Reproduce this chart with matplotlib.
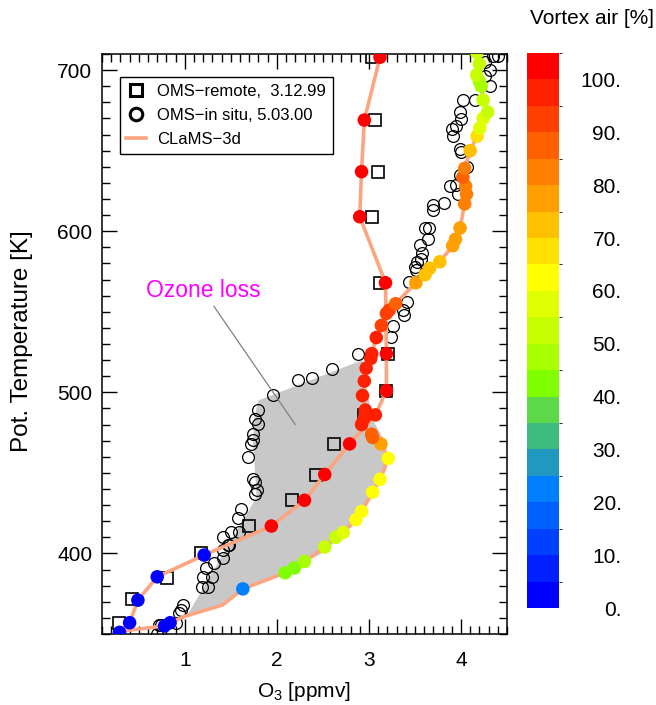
import numpy as np
import matplotlib
matplotlib.use("Agg")
import matplotlib.pyplot as plt
from matplotlib.colors import ListedColormap, BoundaryNorm
from matplotlib.cm import ScalarMappable
from matplotlib.lines import Line2D

plt.rcParams['font.family'] = ['Liberation Sans', 'DejaVu Sans']
plt.rcParams['mathtext.fontset'] = 'custom'
plt.rcParams['mathtext.rm'] = 'Liberation Sans'

# OMS-remote, 3.12.99 (squares)
remote_o3 = [3.03, 3.07, 3.10, 3.03, 3.12, 3.21, 3.19, 2.95, 2.62, 2.42, 2.16, 1.70, 1.18, 0.81, 0.43, 0.29]
remote_theta = [708, 669, 637, 609, 568, 524, 501, 486, 468, 449, 433, 417, 400, 385, 372, 357]

# OMS-in situ, 5.03.00 (open circles)
insitu_o3 = [4.35, 4.40, 4.32, 4.26, 4.26, 4.31, 4.15, 4.02, 3.99, 4.00, 3.95, 3.90, 3.91, 3.99, 4.00,
             4.06, 3.99, 3.88, 3.95, 3.97, 3.70, 3.82, 3.70, 3.61, 3.65, 3.64, 3.56, 3.58, 3.57, 3.52,
             3.50, 3.51, 3.44, 3.41, 3.37, 3.38, 3.26, 3.24, 2.88, 2.60, 2.38, 2.23, 1.96, 1.79, 1.76,
             1.79, 1.74, 1.74, 1.72, 1.69, 1.74, 1.76, 1.78, 1.76, 1.61, 1.58, 1.59, 1.50, 1.48, 1.41,
             1.47, 1.41, 1.41, 1.32, 1.23, 1.29, 1.20, 1.25, 1.19, 0.98, 0.96, 0.94, 0.74, 0.72, 0.70, 0.90]
insitu_theta = [709, 709, 700, 704.8, 696.6, 690.4, 681.5, 681.5, 673.8, 669.7, 665.6, 663.5, 659.4, 651.1, 649,
                639.7, 634.6, 627.8, 628.4, 623.2, 616, 617.6, 612.9, 602.1, 602.1, 595.3, 591.2, 586.4, 582.9, 580.8,
                577.7, 575.7, 568.4, 556, 550.9, 547.8, 540.9, 534.3, 523.6, 514.7, 509.1, 507.4, 498.6, 488.8, 483.7,
                480.6, 474.4, 470.2, 468.2, 459.9, 446.5, 444.4, 439.2, 437.2, 427.4, 421.7, 413.4, 413.4, 405, 410.3,
                405.2, 402.2, 396.9, 393.8, 390.7, 385.5, 385.5, 379.3, 379.3, 367.9, 364.8, 362.8, 355.5, 355.5, 350, 357]

# CLaMS-3d along the remote profile
clams_remote_o3 = [0.29, 0.40, 0.49, 0.70, 1.21, 1.94, 2.30, 2.52, 2.79, 3.07, 3.19, 3.19, 3.18, 2.90, 2.92, 2.95, 3.12]
clams_remote_theta = [351, 357, 371, 385.5, 399, 417, 433, 449, 468, 486, 501, 524, 568, 609, 637, 669, 708]
clams_remote_vortex = [2, 2, 2, 2, 2, 100, 100, 100, 100, 97, 100, 100, 100, 100, 100, 100, 100]

# CLaMS-3d along the in situ profile (nan = line vertex without dot)
clams_insitu_o3 = [0.34, 0.78, 0.84, 1.00, 1.41, 1.63, 2.09, 2.19, 2.30, 2.52, 2.64, 2.72, 2.86, 2.92, 3.04,
                   3.12, 3.21, 3.13, 3.04, 3.03, 2.92, 2.95, 2.96, 2.93, 2.95, 2.97, 3.02, 3.03, 3.08, 3.135,
                   3.19, 3.22, 3.29, 3.51, 3.61, 3.66, 3.77, 3.91, 3.94, 3.99, 4.04, 4.06, 4.05, 4.02, 4.04,
                   4.10, 4.175, 4.205, 4.24, 4.29, 4.24, 4.22, 4.20, 4.17, 4.20, 4.17]
clams_insitu_theta = [352, 355, 357, 361, 368, 378, 388, 391, 395, 404, 410, 413, 421, 426, 438,
                      446, 459, 468, 472, 474, 480, 484, 489, 498, 507, 515, 521, 524, 534, 541.5,
                      549, 551, 555, 568, 573, 577, 581, 591, 595, 602, 617, 623, 628, 633.5, 639,
                      650, 659, 664, 670, 674, 681.5, 690, 693, 697, 704, 711]
clams_insitu_vortex = [np.nan, 2, 2, np.nan, np.nan, 22, 42, 42, 45, 52, 52, 55, 62, 62, 62,
                       62, 62, 78, 88, 88, 98, 98, 98, 98, 98, 97, 95, 95, 95, 92,
                       92, 92, 88, 77, 72, 72, 72, 77, 77, 77, 80, 80, 82, 85, 80,
                       72, 66, 58, 55, 52, 52, 47, 47, 50, 50, 52]

# ozone loss area
loss_o3 = [2.93, 1.80, 1.76, 1.74, 1.76, 1.78, 1.03, 1.41, 1.63, 2.08, 2.52, 2.86, 3.04, 3.19, 3.19, 3.03]
loss_theta = [520, 495, 486, 470, 453, 435, 362, 368, 378, 388, 401, 421, 436, 452, 468, 484]

# colour scale for vortex air
vortex_levels = list(range(0, 110, 5))
vortex_colors = ['#0000FF', '#0020FF', '#0040FF', '#0060FF', '#0080FF', '#2098C0', '#40BB80',
                 '#5CD84A', '#7FFF00', '#A8FF00', '#C8FF00', '#E0FF00', '#FFFF00', '#FFE000',
                 '#FFC000', '#FFA000', '#FF7F00', '#FF6000', '#FF4000', '#FF2000', '#FF0000']
vortex_ticks = list(range(0, 101, 10))

cmap = ListedColormap(vortex_colors)
norm = BoundaryNorm(vortex_levels, cmap.N)
salmon = '#FCA580'

fig = plt.figure(figsize=(6.56, 7.05), dpi=100)
ax = fig.add_axes([102/656, 71/705, 405/656, 580/705])

ax.fill(loss_o3, loss_theta, color='#C8C8C8', lw=0, zorder=1)

ax.plot(remote_o3, remote_theta, 's', ms=8.5, mfc='none', mec='black', mew=1.2, zorder=2)
ax.plot(insitu_o3, insitu_theta, 'o', ms=8.5, mfc='none', mec='black', mew=0.9, zorder=2)

ax.plot(clams_remote_o3, clams_remote_theta, '-', color=salmon, lw=2.6, zorder=3)
ax.plot(clams_insitu_o3, clams_insitu_theta, '-', color=salmon, lw=2.6, zorder=3)

ax.scatter(clams_remote_o3, clams_remote_theta, c=clams_remote_vortex, cmap=cmap, norm=norm,
           s=95, linewidths=0, zorder=4)
v = np.array(clams_insitu_vortex)
ok = ~np.isnan(v)
ax.scatter(np.array(clams_insitu_o3)[ok], np.array(clams_insitu_theta)[ok], c=v[ok], cmap=cmap,
           norm=norm, s=95, linewidths=0, zorder=4)

ax.annotate('Ozone loss', xy=(2.20, 480), xytext=(1.20, 563), color='#FF00FF', fontsize=16.5,
            ha='center', va='center',
            arrowprops=dict(arrowstyle='-', color='#808080', lw=0.9, shrinkA=1, shrinkB=0))

ax.set_xlim(0.1, 4.5)
ax.set_ylim(350, 710)
ax.set_xticks([1, 2, 3, 4])
ax.set_xticks(np.arange(0.1, 4.51, 0.1), minor=True)
ax.set_yticks([400, 500, 600, 700])
ax.set_yticks(np.arange(350, 711, 10), minor=True)
ax.tick_params(which='both', direction='in', top=True, right=True, labelsize=15, width=1)
ax.tick_params(which='major', length=11)
ax.tick_params(which='minor', length=5.5)
ax.tick_params(axis='x', pad=12)
ax.tick_params(axis='y', pad=7)
for s in ax.spines.values():
    s.set_linewidth(1.1)

ax.set_xlabel(r'O$_{\mathregular{3}}$ [ppmv]', fontsize=15)
ax.xaxis.set_label_coords(0.5, -0.08)
ax.set_ylabel('Pot. Temperature [K]', fontsize=17.5)
ax.yaxis.set_label_coords(-0.17, 0.505)

handles = [
    Line2D([], [], ls='none', marker='s', ms=9, mfc='none', mec='black', mew=2.2),
    Line2D([], [], ls='none', marker='o', ms=9, mfc='none', mec='black', mew=2.2),
    Line2D([], [], color=salmon, lw=2.6),
]
leg = ax.legend(handles, ['OMS\u2212remote,  3.12.99', 'OMS\u2212in situ, 5.03.00', 'CLaMS\u22123d'],
                loc='upper left', bbox_to_anchor=(0.044, 0.96), borderaxespad=0, fontsize=12,
                fancybox=False, framealpha=1, edgecolor='black', handlelength=1.2,
                handletextpad=0.65, labelspacing=0.55, borderpad=0.4)
leg.get_frame().set_linewidth(1.0)

cax = fig.add_axes([527/656, 97/705, 32/656, 555/705])
cb = fig.colorbar(ScalarMappable(norm=norm, cmap=cmap), cax=cax, ticks=vortex_ticks)
cb.outline.set_visible(False)
cb.ax.set_yticklabels([f'{t}.' for t in vortex_ticks])
cb.ax.tick_params(length=0, pad=45, labelsize=15)
plt.setp(cb.ax.get_yticklabels(), ha='right')
fig.text(592/656, 1 - 18/705, 'Vortex air [%]', ha='center', va='center', fontsize=15)

fig.savefig('out.png', dpi=100)
